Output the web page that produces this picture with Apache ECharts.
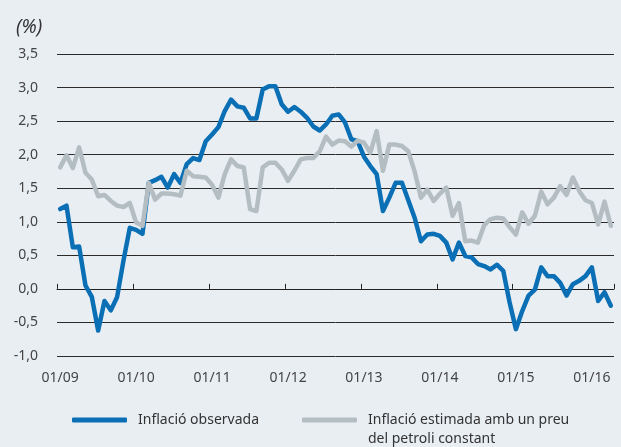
<!DOCTYPE html>
<html>
<head>
<meta charset="utf-8">
<script src="https://cdn.jsdelivr.net/npm/echarts@6/dist/echarts.min.js"></script>
<style>
  html, body { margin: 0; padding: 0; background: #e9eef3; }
  #chart { width: 621px; height: 447px; }
</style>
</head>
<body>
<div id="chart"></div>
<script>
// month categories 01/09 .. 04/16
var months = function () {
    var data = [];
    for (var y = 9; y <= 16; y++) {
        for (var m = 1; m <= 12; m++) {
            if (y === 16 && m > 4) break;
            data.push((m < 10 ? '0' + m : '' + m) + '/' + (y < 10 ? '0' + y : '' + y));
        }
    }
    return data;
}();

var observada = [
    1.19, 1.24, 0.62, 0.63, 0.05, -0.12, -0.62, -0.18, -0.32, -0.12, 0.42, 0.91,
    0.88, 0.82, 1.58, 1.62, 1.67, 1.51, 1.71, 1.58, 1.86, 1.95, 1.92, 2.2,
    2.3, 2.41, 2.65, 2.82, 2.72, 2.7, 2.54, 2.54, 2.97, 3.02, 3.02, 2.75,
    2.64, 2.71, 2.64, 2.55, 2.42, 2.36, 2.45, 2.58, 2.6, 2.48, 2.23, 2.2,
    1.97, 1.83, 1.71, 1.16, 1.36, 1.58, 1.58, 1.32, 1.06, 0.71, 0.81, 0.82,
    0.79, 0.69, 0.44, 0.69, 0.49, 0.47, 0.37, 0.34, 0.29, 0.36, 0.27, -0.2,
    -0.6, -0.33, -0.1, -0.01, 0.32, 0.19, 0.19, 0.09, -0.1, 0.07, 0.12, 0.19,
    0.32, -0.18, -0.05, -0.25
];

var estimada = [
    1.81, 1.99, 1.8, 2.11, 1.73, 1.63, 1.38, 1.4, 1.31, 1.24, 1.22, 1.28,
    0.99, 0.94, 1.58, 1.33, 1.42, 1.42, 1.41, 1.39, 1.76, 1.68, 1.67, 1.66,
    1.55, 1.36, 1.71, 1.93, 1.83, 1.81, 1.19, 1.16, 1.81, 1.88, 1.88, 1.78,
    1.61, 1.76, 1.93, 1.95, 1.95, 2.05, 2.27, 2.15, 2.21, 2.2, 2.12, 2.21,
    2.18, 2.03, 2.35, 1.76, 2.15, 2.15, 2.13, 2.05, 1.75, 1.36, 1.48, 1.31,
    1.42, 1.51, 1.09, 1.28, 0.71, 0.72, 0.69, 0.95, 1.04, 1.06, 1.05, 0.92,
    0.81, 1.14, 0.97, 1.09, 1.45, 1.26, 1.36, 1.53, 1.4, 1.66, 1.46, 1.32,
    1.28, 0.96, 1.3, 0.94
];

var seriesNames = ['Inflació observada', 'Inflació estimada amb un preu\ndel petroli constant'];

var chart = echarts.init(document.getElementById('chart'));
var font = 'Noto Sans';
var legendText = { fontFamily: font, fontSize: 14, color: '#333', lineHeight: 19, padding: [0, 0, 0, 6] };
var option = {
    animation: false,
    backgroundColor: '#e9eef3',
    title: {
        text: '(%)',
        left: 11,
        top: 13,
        textStyle: { fontFamily: font, fontStyle: 'italic', fontWeight: 'normal', fontSize: 19, color: '#333' }
    },
    legend: [{
        data: [seriesNames[0]],
        left: 72,
        top: 410.5,
        padding: 0,
        itemWidth: 55,
        itemHeight: 5,
        icon: 'roundRect',
        selectedMode: false,
        textStyle: legendText
    }, {
        data: [seriesNames[1]],
        left: 302,
        top: 391.5,
        padding: 0,
        itemWidth: 55,
        itemHeight: 5,
        icon: 'roundRect',
        selectedMode: false,
        // blank first line keeps the first text line level with the icon
        formatter: function (name) { return ' \n' + name; },
        textStyle: legendText
    }],
    grid: {
        left: 57,
        right: 7,
        top: 54,
        bottom: 91,
        outerBoundsMode: 'none'
    },
    xAxis: {
        type: 'category',
        data: months,
        boundaryGap: true,
        axisLine: { onZero: true, lineStyle: { color: '#222', width: 1 } },
        axisTick: { show: true, inside: true, length: 5, interval: 11, lineStyle: { color: '#222' } },
        axisLabel: {
            interval: 11,
            margin: 15,
            fontFamily: font,
            fontSize: 14,
            color: '#444'
        },
        splitLine: { show: false }
    },
    yAxis: {
        type: 'value',
        min: -1,
        max: 3.5,
        interval: 0.5,
        axisLine: { show: false },
        axisTick: { show: false },
        axisLabel: {
            margin: 19,
            fontFamily: font,
            fontSize: 14,
            color: '#444',
            formatter: function (v) { return v.toFixed(1).replace('.', ','); }
        },
        splitLine: { lineStyle: { color: '#2a2a2a', width: 1 } }
    },
    series: [{
        name: seriesNames[0],
        type: 'line',
        data: observada,
        symbol: 'none',
        color: '#0a6fb5',
        lineStyle: { width: 4.5, color: '#0a6fb5', cap: 'round', join: 'round' }
    }, {
        name: seriesNames[1],
        type: 'line',
        data: estimada,
        symbol: 'none',
        color: '#b4bec2',
        lineStyle: { width: 4.5, color: '#b4bec2', cap: 'round', join: 'round' }
    }]
};
chart.setOption(option);
</script>
</body>
</html>
